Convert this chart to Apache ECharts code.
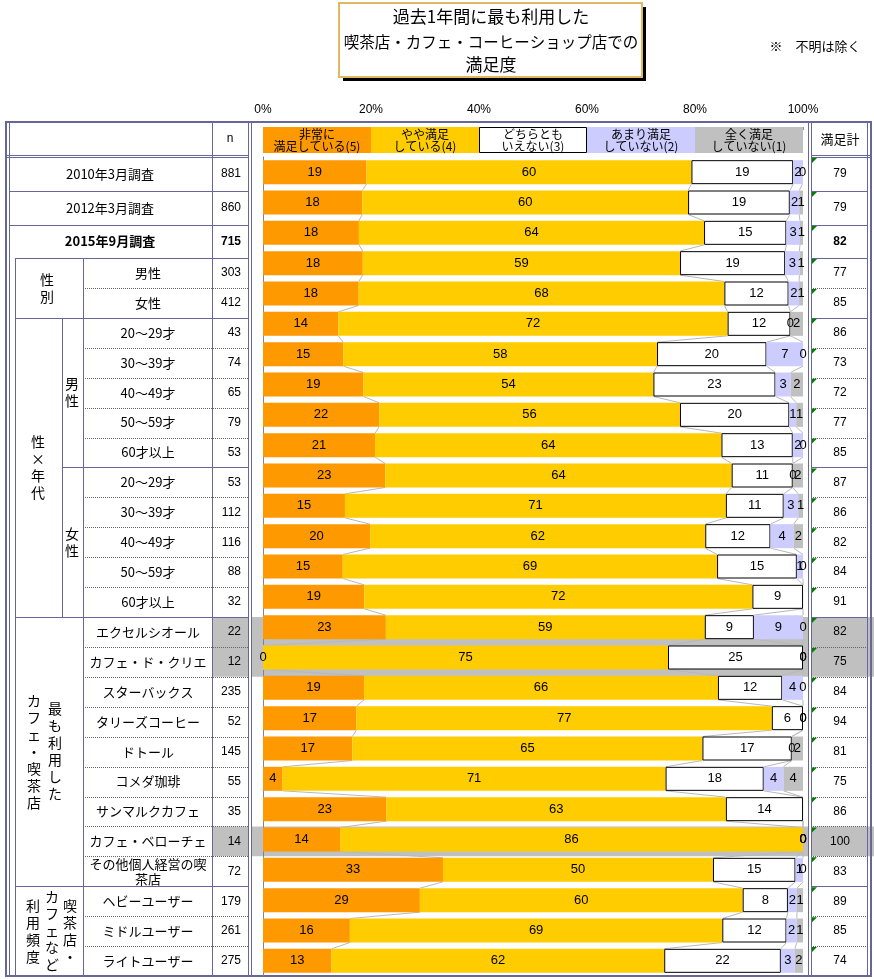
<!DOCTYPE html>
<html><head><meta charset="utf-8">
<script src="https://cdn.jsdelivr.net/npm/echarts@6/dist/echarts.min.js"></script>
<style>html,body{margin:0;padding:0;background:#fff}#c{width:874px;height:979px}</style>
</head><body><div id="c"></div>
<script>
// ---------------- DATA ----------------
const rowLabels = ['2010年3月調査','2012年3月調査','2015年9月調査','男性','女性',
  '20～29才','30～39才','40～49才','50～59才','60才以上',
  '20～29才','30～39才','40～49才','50～59才','60才以上',
  'エクセルシオール','カフェ・ド・クリエ','スターバックス','タリーズコーヒー','ドトール','コメダ珈琲','サンマルクカフェ','カフェ・ベローチェ','その他個人経営の喫茶店',
  'ヘビーユーザー','ミドルユーザー','ライトユーザー'];
const nValues = [881,860,715,303,412,43,74,65,79,53,53,112,116,88,32,22,12,235,52,145,55,35,14,72,179,261,275];
const legendNames = ['非常に\n満足している(5)','やや満足\nしている(4)','どちらとも\nいえない(3)','あまり満足\nしていない(2)','全く満足\nしていない(1)'];
const verySatisfied = [19.18,18.37,17.76,18.48,17.72,13.95,14.86,18.6,21.52,20.75,22.64,15.18,19.83,14.77,18.75,22.73,0,18.72,17.31,16.55,3.64,22.86,14.29,33.33,29.05,16.09,12.7];
const somewhatSatisfied = [60.16,60.35,63.92,58.75,67.72,72.09,58.11,53.7,55.7,64.15,64.15,70.54,62.07,69.32,71.88,59.09,75,65.53,76.92,64.83,70.91,62.86,85.71,50,59.78,68.97,61.6];
const neither = [18.84,18.84,15.24,19.47,11.89,11.63,20.27,22.6,20.25,13.21,11.32,10.71,12.07,14.77,9.38,9.09,25,11.91,5.77,16.55,18.18,14.29,0,15.28,8.38,11.88,21.6];
const notVery = [1.7,1.74,2.52,2.64,1.94,0,6.76,2.8,1.27,1.89,0,2.68,4.31,1.14,0,9.09,0,3.83,0,0,3.64,0,0,1.39,1.68,1.92,2.6];
const notAtAll = [0.11,0.7,0.56,0.66,0.73,2.33,0,2.3,1.27,0,1.89,0.89,1.72,0,0,0,0,0,0,2.07,3.64,0,0,0,1.12,1.15,1.5];
const satisfiedTotal = [79,79,82,77,85,86,73,72,77,85,87,86,82,84,91,82,75,84,94,81,75,86,100,83,89,85,74];
const xTicks = [0,20,40,60,80,100];
const titleLines = ['過去1年間に最も利用した','喫茶店・カフェ・コーヒーショップ店での','満足度'];
const noteText = '※　不明は除く';
const totalHeader = '満足計';
const groups = [
  {labels:['性\n別'], xs:[47], from:3, to:4},
  {labels:['性\n×\n年\n代'], xs:[38], from:5, to:14, subs:[{label:'男\n性',from:5,to:9},{label:'女\n性',from:10,to:14}]},
  {labels:['カ\nフ\nェ\n・\n喫\n茶\n店','最\nも\n利\n用\nし\nた'], xs:[34,55], from:15, to:23},
  {labels:['利\n用\n頻\n度','カ\nフ\nェ\nな\nど','喫\n茶\n店\n・'], xs:[33,52,70], from:24, to:26}
];

// ---------------- CHART ----------------
const segs = [verySatisfied, somewhatSatisfied, neither, notVery, notAtAll];
const colors = ['#FF9900','#FFCC00','#FFFFFF','#CCCCFF','#C0C0C0'];
const N = rowLabels.length;
const rowKeys = rowLabels.map((l,i)=>(i+1)+'_'+l);
const JP = '"Noto Sans CJK JP", sans-serif';
const NUM = '"Liberation Sans", Arial, sans-serif';

// table layout
const TOP = 122, BOTTOM = 976;
const firstTops = [157,191,225];
const RH = (BOTTOM-258)/24;
const rowTop = i => i<3 ? firstTops[i] : 258 + (i-3)*RH;
const rowBot = i => i<N-1 ? rowTop(i+1) : BOTTOM;
const rowMid = i => (rowTop(i)+rowBot(i))/2;

const LC = '#666699';
const els = [];
function hl(x1,x2,y,dotted,w){ els.push({type:'line',silent:true,shape:{x1:x1,y1:y,x2:x2,y2:y},style:{stroke:dotted?'#666':LC,lineWidth:w||1,lineDash:dotted?[1,1]:null}}); }
function vl(x,y1,y2,w){ els.push({type:'line',silent:true,shape:{x1:x,y1:y1,x2:x,y2:y2},style:{stroke:LC,lineWidth:w||1}}); }
function tx(x,y,t,o){ o=o||{}; els.push({type:'text',silent:true,x:x,y:y,style:{text:t,fill:'#000',font:o.font||('13px '+JP),align:o.align||'center',verticalAlign:'middle',textAlign:o.align||'center',textVerticalAlign:'middle',lineHeight:o.lh||null,width:o.width||null,overflow:o.width?'break':null}}); }

// title
els.push({type:'rect',silent:true,shape:{x:343,y:7,width:303,height:74},style:{fill:'#000'}});
els.push({type:'rect',silent:true,shape:{x:339,y:3,width:303,height:74},style:{fill:'#fff',stroke:'#E0B860',lineWidth:2}});
tx(491,17,titleLines[0],{font:'17px '+JP});
tx(491,42,titleLines[1],{font:'15.5px '+JP});
tx(491,65,titleLines[2],{font:'17px '+JP});
tx(815,46,noteText,{font:'13px '+JP});

// gray cells for small n
nValues.forEach((n,i)=>{
  if(n<30){
    const y=rowTop(i), h=rowBot(i)-rowTop(i);
    els.push({type:'rect',silent:true,z:-1,shape:{x:213,y:y,width:35,height:h},style:{fill:'#C0C0C0'}});
    els.push({type:'rect',silent:true,z:-1,shape:{x:252,y:y,width:556,height:h},style:{fill:'#C0C0C0'}});
    els.push({type:'rect',silent:true,z:-1,shape:{x:812,y:y,width:62,height:h},style:{fill:'#C0C0C0'}});
  }
});

// frame
els.push({type:'rect',silent:true,shape:{x:6,y:TOP,width:865,height:BOTTOM-TOP},style:{fill:null,stroke:LC,lineWidth:2}});
vl(9.5,TOP,BOTTOM); vl(867.5,TOP,BOTTOM);
vl(212.5,TOP,BOTTOM); vl(248.5,TOP,BOTTOM); vl(251.5,TOP,BOTTOM);
vl(808.5,TOP,BOTTOM); vl(811.5,TOP,BOTTOM);
hl(7,248,155.5); hl(7,248,157.5); hl(811,871,155.5); hl(811,871,157.5);
vl(15.5,258,BOTTOM); vl(83.5,258,BOTTOM);
vl(62.5,rowTop(5),rowBot(14));

const groupEnds = [4,14,23];
for(let i=0;i<N-1;i++){
  const y = Math.round(rowBot(i))+0.5;
  if(i<2){ hl(9,248,y); hl(811,868,y); }
  else if(i===2 || groupEnds.includes(i)){ hl(15,248,y); hl(811,868,y); }
  else if(i===9){ hl(62,248,y); hl(811,868,y); }
  else { hl(83,248,y,true); hl(811,868,y,true); }
}

// header texts
tx(230,139,'n',{font:'12px '+NUM});
tx(840,139,totalHeader,{font:'13px '+JP});

// row texts
rowLabels.forEach((l,i)=>{
  const y=rowMid(i), bold = i===2;
  const f = (bold?'bold ':'')+'13px '+JP;
  if(i<3) tx(110,y,l,{font:f});
  else tx(148,y,l,{font:f,width:124,lh:15});
  tx(241,y,String(nValues[i]),{font:(bold?'bold ':'')+'12px '+NUM,align:'right'});
  tx(840,y,String(satisfiedTotal[i]),{font:(bold?'bold ':'')+'12px '+NUM});
  const t=rowTop(i);
  els.push({type:'polygon',silent:true,shape:{points:[[812,t+1],[817,t+1],[812,t+6]]},style:{fill:'#008000'}});
});
groups.forEach(g=>{
  const y=(rowTop(g.from)+rowBot(g.to))/2;
  g.labels.forEach((l,k)=>tx(g.xs[k],y,l,{font:'14px '+JP,lh:17}));
  (g.subs||[]).forEach(s=>tx(72,(rowTop(s.from)+rowBot(s.to))/2,s.label,{font:'14px '+JP,lh:17}));
});

const series = [];
legendNames.forEach((name,s)=>{
  series.push({type:'bar',xAxisIndex:0,yAxisIndex:0,stack:'lg',barWidth:'100%',data:[20],
    itemStyle:{color:colors[s],borderColor:s===2?'#000':colors[s],borderWidth:s===2?1:0},
    label:{show:true,position:'inside',formatter:name,color:'#000',fontSize:12,lineHeight:12,fontFamily:JP},
    silent:true});
});
segs.forEach((arr,s)=>{
  series.push({type:'bar',name:legendNames[s],xAxisIndex:1,yAxisIndex:1,stack:'main',barWidth:24,
    data:arr.map(v=>({value:v,itemStyle:{borderWidth:(s===2&&v>0)?1:0}})),
    itemStyle:{color:colors[s],borderColor:'#000'},
    label:{show:true,position:'inside',color:'#000',fontSize:13,fontFamily:NUM,formatter:p=>String(Math.round(p.value))},
    silent:true});
});
series.push({type:'custom',xAxisIndex:1,yAxisIndex:1,z:1,silent:true,encode:{x:0,y:1},
  data:rowKeys.map((k,i)=>[0,i]),
  renderItem:(params,api)=>{
    const k=params.dataIndex; const ch=[];
    if(k<N-1){
      let c0=0,c1=0;
      for(let s=0;s<4;s++){
        c0+=segs[s][k]; c1+=segs[s][k+1];
        const p0=api.coord([c0,k]), p1=api.coord([c1,k+1]);
        ch.push({type:'line',shape:{x1:p0[0],y1:p0[1]+12,x2:p1[0],y2:p1[1]-12},style:{stroke:'#b8b8b8',lineWidth:1}});
      }
    }
    return {type:'group',children:ch};
  }});

const chart = echarts.init(document.getElementById('c'),null,{renderer:'canvas'});
chart.setOption({
  animation:false,
  grid:[{left:263,width:540,top:127,height:26},{left:263,width:540,top:157,height:819}],
  xAxis:[
    {gridIndex:0,type:'value',min:xTicks[0],max:xTicks[xTicks.length-1],interval:xTicks[1]-xTicks[0],position:'top',
      axisLabel:{formatter:'{value}%',margin:11,fontSize:12,color:'#000',fontFamily:NUM},
      axisLine:{show:false},axisTick:{show:true,inside:true,length:3,lineStyle:{color:'#999'}},splitLine:{show:false}},
    {gridIndex:1,type:'value',min:0,max:100,show:false}
  ],
  yAxis:[
    {gridIndex:0,type:'category',data:['legend'],show:false},
    {gridIndex:1,type:'category',data:rowKeys,inverse:true,axisLabel:{show:false},
      axisLine:{lineStyle:{color:'#8080a0'}},axisTick:{inside:true,length:4,lineStyle:{color:'#8080a0'}},splitLine:{show:false}}
  ],
  graphic:{elements:els},
  series:series
});
</script></body></html>
